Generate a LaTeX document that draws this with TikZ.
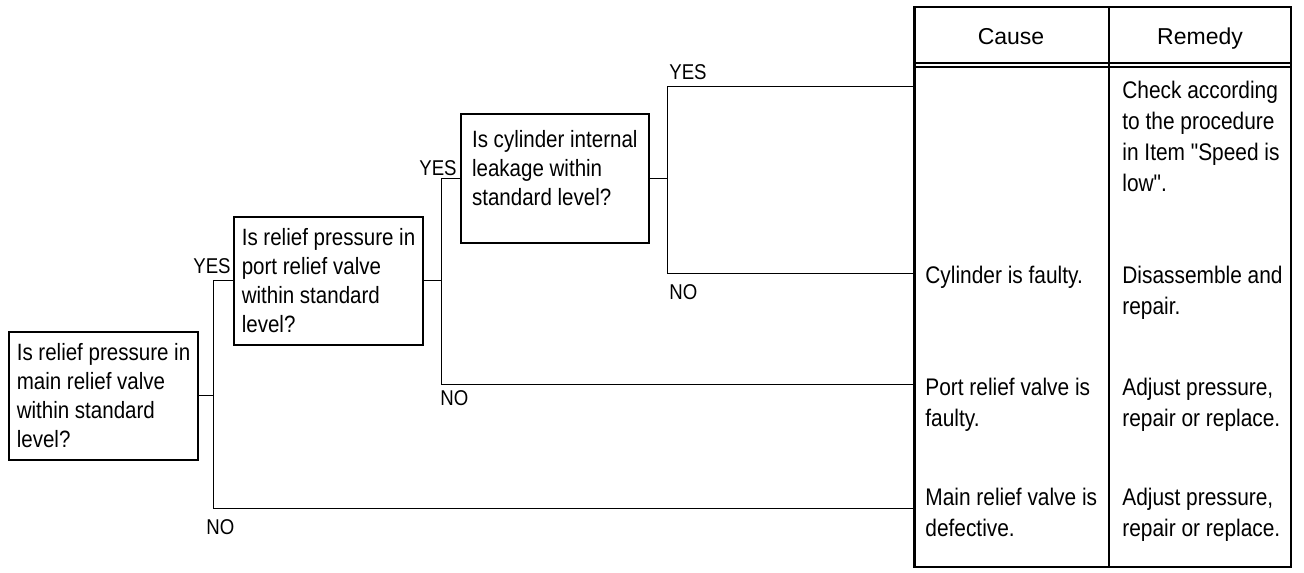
\documentclass[tikz,border=0pt]{standalone}
\usepackage{fontspec}
\setmainfont{Liberation Sans}
\newfontfamily\narrowfont{Liberation Sans}[FakeStretch=0.87]
\usepackage{tikz}
\tikzstyle{question}=[draw=black, line width=0.8pt, shape=rectangle, anchor=north west, align=left, minimum width=94pt, inner xsep=4pt, minimum height=64pt, font={\narrowfont\fontsize{11.8}{14.5}\selectfont}]
\tikzstyle{answer}=[anchor=north west, inner sep=0pt, align=left, font={\narrowfont\fontsize{12}{15.5}\selectfont}]
\tikzstyle{heading}=[anchor=base, inner sep=0pt, font={\fontsize{11.5}{14}\selectfont}]
\tikzstyle{branch}=[inner sep=0pt, font={\narrowfont\fontsize{10.7}{12}\selectfont}]
\tikzstyle{link}=[-, draw=black, line width=0.5pt]
\tikzstyle{frame}=[-, draw=black, line width=0.8pt]
\tikzstyle{thin frame}=[-, draw=black, line width=0.6pt]
\pgfdeclarelayer{nodelayer}
\pgfdeclarelayer{edgelayer}
\pgfsetlayers{nodelayer,edgelayer,main}
\begin{document}
\begin{tikzpicture}[x=0.5pt, y=-0.5pt]
	\useasboundingbox (0, 0) rectangle (1304, 572);
	\begin{pgfonlayer}{nodelayer}
		\node [style=question] (0) at (8, 331) {Is relief pressure in\\main relief valve\\within standard\\level?};
		\node [style=question] (1) at (233, 216) {Is relief pressure in\\port relief valve\\within standard\\level?};
		\node [style=question, minimum height=64.5pt, text depth=10pt] (2) at (460, 113) {Is cylinder internal\\leakage within\\standard level?};
		\node [style=branch, anchor=east] (3) at (231, 266) {YES};
		\node [style=branch, anchor=west] (4) at (206, 527) {NO};
		\node [style=branch, anchor=east] (5) at (457, 168) {YES};
		\node [style=branch, anchor=west] (6) at (440, 398) {NO};
		\node [style=branch, anchor=west] (7) at (669, 72) {YES};
		\node [style=branch, anchor=west] (8) at (669, 292) {NO};
		\node [style=heading] (9) at (1011, 45) {Cause};
		\node [style=heading] (10) at (1200, 45) {Remedy};
		\node [style=answer] (11) at (1122, 81) {Check according\\to the procedure\\in Item "Speed is\\low".};
		\node [style=answer] (12) at (925, 266) {Cylinder is faulty.};
		\node [style=answer] (13) at (1122, 266) {Disassemble and\\repair.};
		\node [style=answer] (14) at (925, 378) {Port relief valve is\\faulty.};
		\node [style=answer] (15) at (1122, 378) {Adjust pressure,\\repair or replace.};
		\node [style=answer] (16) at (925, 488) {Main relief valve is\\defective.};
		\node [style=answer] (17) at (1122, 488) {Adjust pressure,\\repair or replace.};
		\coordinate (20) at (213, 508);
		\coordinate (21) at (441, 384);
		\coordinate (22) at (667, 273);
		\coordinate (23) at (914, 87);
		\coordinate (24) at (914, 273);
		\coordinate (25) at (914, 384);
		\coordinate (26) at (914, 508);
	\end{pgfonlayer}
	\begin{pgfonlayer}{edgelayer}
		% table
		\draw [style=frame] (914, 7) rectangle (1291, 567);
		\draw [style=frame] (1109, 7) -- (1109, 567);
		\draw [style=thin frame] (914, 63) -- (1291, 63);
		\draw [style=thin frame] (914, 67) -- (1291, 67);
		\draw [line width=1.5pt] (914, 7) -- (914, 567);
		% branches
		\draw [style=link] (0.east) -- (0.east -| 20);
		\draw [style=link] (1.west) -| (20) -- (26);
		\draw [style=link] (1.east) -- (1.east -| 21);
		\draw [style=link] (2.west) -| (21) -- (25);
		\draw [style=link] (2.east) -- (2.east -| 22);
		\draw [style=link] (23) -| (22) -- (24);
	\end{pgfonlayer}
\end{tikzpicture}
\end{document}
